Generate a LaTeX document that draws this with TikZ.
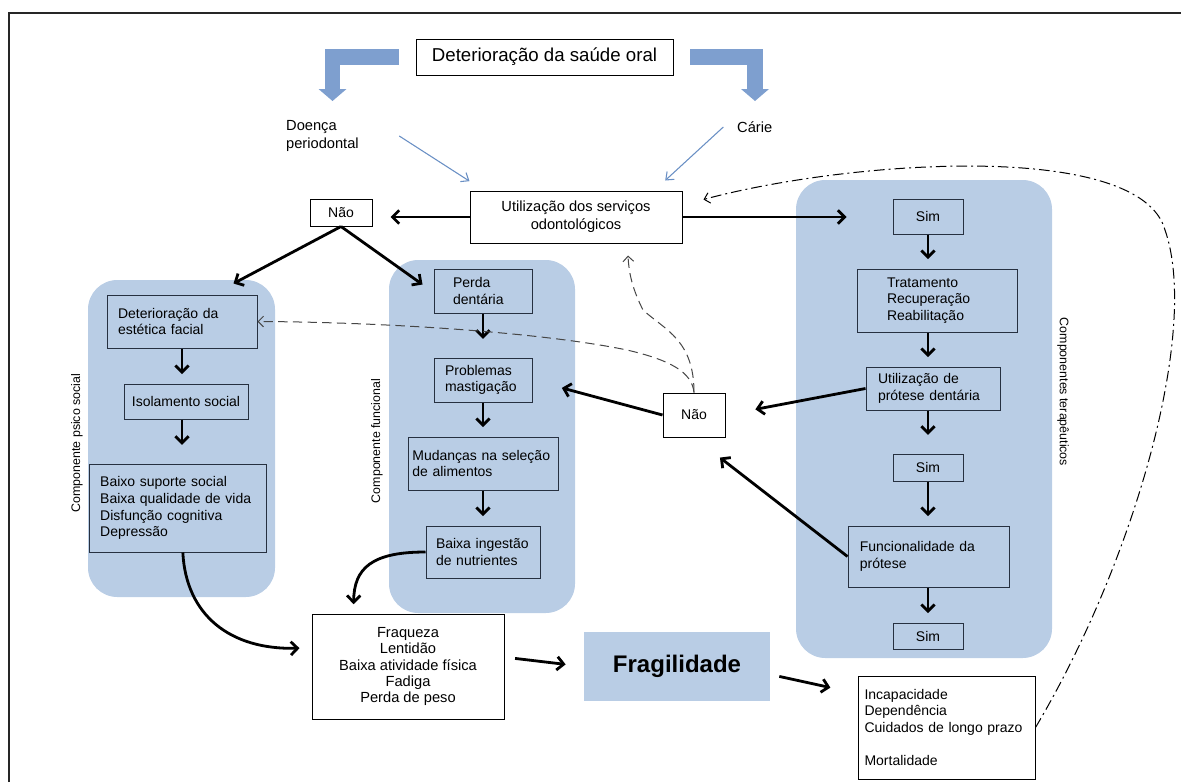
\documentclass[tikz,border=0pt]{standalone}
\usepackage{fontspec}
\setmainfont{Liberation Sans}
\usetikzlibrary{arrows.meta}
\definecolor{panelblue}{RGB}{185,205,229}
\definecolor{barblue}{RGB}{126,159,207}
\definecolor{hintblue}{RGB}{105,143,196}
\definecolor{boxline}{RGB}{38,48,64}
\definecolor{loopgray}{RGB}{70,70,70}

\begin{document}
\begin{tikzpicture}[
  x=0.75pt,y=-0.75pt,line width=0.75pt,
  font=\fontsize{10.5}{12.6}\selectfont,
  every node/.style={inner sep=2pt},
  box size/.style 2 args={minimum width=#1*0.75pt,minimum height=#2*0.75pt},
  panel/.style={fill=panelblue,rounded corners=22pt,inner sep=0pt},
  inbox/.style={draw=boxline,fill=panelblue,inner sep=0pt,align=left},
  outbox/.style={draw=black,fill=white,inner sep=0pt,align=center},
  big arrow/.style={draw=barblue,line width=11.5pt,
    -{Triangle[length=9pt,width=21pt,line width=0pt]}},
  hint/.style={draw=hintblue,line width=0.8pt,-{Straight Barb[length=5pt,width=8pt]}},
  flow/.style={line width=2.1pt,-{Straight Barb[length=5pt,width=10pt]},shorten >=7pt},
  loopback/.style={draw=loopgray,dash pattern=on 7pt off 4pt,
    -{Straight Barb[length=4pt,width=8pt]}},
  feedback/.style={dash pattern=on 8pt off 3pt on 1.5pt off 3pt,
    -{Straight Barb[length=4pt,width=8pt]}},
  side label/.style={font=\fontsize{9.3}{11}\selectfont}
]
  \useasboundingbox (0,0) rectangle (1181,782);
  % outer frame, only the top and left sides show
  \draw[line width=1.1pt,black!85] (9,782) -- (9,13) -- (1181,13);

  % background panels
  \node[panel,box size={187}{317}] (psico) at (181.5,438.5) {};
  \node[panel,box size={186}{353}] (funcional) at (482,436.5) {};
  \node[panel,box size={256}{478}] (terap) at (924,419) {};

  % top of the chart
  \node[outbox,box size={257}{36},font=\fontsize{14}{16}\selectfont] (oral) at (544.5,57)
    {Deterioração da saúde oral};
  \coordinate (perioTip) at (332.5,101);
  \coordinate (carieTip) at (755,101);
  \node[anchor=west,align=left,font=\fontsize{11}{13.5}\selectfont] (perio) at (283,136)
    {Doença\\periodontal};
  \node[anchor=west,font=\fontsize{11}{13.5}\selectfont] (carie) at (734,127) {Cárie};
  \node[outbox,box size={212}{52},font=\fontsize{11}{13.5}\selectfont] (util) at (576,217)
    {Utilização dos serviços\\odontológicos};
  \node[outbox,box size={62}{27}] (naoTop) at (341,212.5) {Não};

  % psycho-social column
  \node[inbox,box size={150}{53},text width=96pt] (facial) at (182,321.5)
    {Deterioração da\\estética facial};
  \node[inbox,box size={124}{35},align=center] (isol) at (186,401.5) {Isolamento social};
  \node[inbox,box size={177}{88},text width=116pt] (social) at (177.5,508)
    {Baixo suporte social\\Baixa qualidade de vida\\Disfunção cognitiva\\Depressão};

  % functional column
  \node[inbox,box size={98}{44},text width=45pt] (perda) at (483,291) {Perda\\dentária};
  \node[inbox,box size={98}{44},text width=57pt] (mast) at (483,380) {Problemas\\mastigação};
  \node[inbox,box size={150}{53},text width=106pt] (mud) at (483,463.5)
    {Mudanças na seleção\\de alimentos};
  \node[inbox,box size={114}{52},text width=70.5pt] (ingest) at (483,552)
    {Baixa ingestão\\de nutrientes};
  \node[outbox,box size={62}{44}] (naoMid) at (694,415) {Não};

  % therapeutic column
  \node[inbox,box size={70}{35},align=center] (sim1) at (928,216.5) {Sim};
  \node[inbox,box size={160}{63},text width=75pt] (trat) at (937,300.5)
    {Tratamento\\Recuperação\\Reabilitação};
  \node[inbox,box size={134}{43},text width=82.5pt] (protese) at (933,388.5)
    {Utilização de\\prótese dentária};
  \node[inbox,box size={70}{27},align=center] (sim2) at (928,467.5) {Sim};
  \node[inbox,box size={161}{61},text width=103pt] (func) at (928.5,556.5)
    {Funcionalidade da\\prótese};
  \node[inbox,box size={70}{26},align=center] (sim3) at (928,636) {Sim};

  % outcomes
  \node[outbox,box size={192}{105},font=\fontsize{11}{12.2}\selectfont] (fraq) at (408,666.5)
    {Fraqueza\\Lentidão\\Baixa atividade física\\Fadiga\\Perda de peso};
  \node[fill=panelblue,inner sep=0pt,box size={186}{69},
    font=\fontsize{18}{20}\selectfont\bfseries] (frag) at (677,666.5) {Fragilidade};
  \node[outbox,box size={177}{103},align=left,text width=123pt,
    font=\fontsize{10.5}{12.4}\selectfont] (incap) at (946.5,727.5)
    {Incapacidade\\Dependência\\Cuidados de longo prazo\\[12.4pt]Mortalidade};

  % column titles
  \node[side label,rotate=90] (psicoLbl) at (77,443) {Componente psico social};
  \node[side label,rotate=90] (funcLbl) at (377,441) {Componente funcional};
  \node[side label,rotate=-90] (terapLbl) at (1063,392) {Componentes terapêuticos};

  % causes
  \draw[big arrow] ([xshift=-12.5pt]oral.west) -| (perioTip);
  \draw[big arrow] ([xshift=12.5pt]oral.east) -| (carieTip);
  \draw[hint] ([xshift=28pt]perio.east) -- ([yshift=7pt]util.north west);
  \draw[hint] ([xshift=-8pt]carie.west) -- ([xshift=-13pt,yshift=7.5pt]util.north east);

  % use of dental services
  \draw[flow,shorten >=13.5pt] (util.west) -- (util.west -| naoTop.east);
  \draw[flow,shorten >=34.5pt] (util.east) -- (util.east -| sim1.west);
  \draw[flow,shorten >=0pt] (naoTop.south) -- ([xshift=-18pt,yshift=8.25pt]facial.north east);
  \draw[flow,shorten >=0pt] (naoTop.south) -- ([xshift=-8.25pt,yshift=-12pt]perda.north west);

  % down the columns
  \draw[flow] (facial.south) -- (facial.south |- isol.north);
  \draw[flow,shorten >=14pt] (isol.south -| facial.south) -- (facial.south |- social.north);
  \draw[flow,shorten >=14pt] (perda.south) -- (perda.south |- mast.north);
  \draw[flow] (mast.south) -- (mast.south |- mud.north);
  \draw[flow] (mud.south) -- (mud.south |- ingest.north);
  \draw[flow] (sim1.south) -- (sim1.south |- trat.north);
  \draw[flow] (trat.south -| sim1.south) -- (sim1.south |- protese.north);
  \draw[flow,shorten >=14pt] (protese.south -| sim1.south) -- (sim1.south |- sim2.north);
  \draw[flow] (sim2.south) -- (sim2.south |- func.north);
  \draw[flow] (func.south -| sim1.south) -- (sim1.south |- sim3.north);

  % back to the second Não
  \draw[flow,shorten >=22.8pt] (naoMid.west) -- (mast.east);
  \draw[flow,shorten >=22.8pt] (protese.west) -- (naoMid.east);
  \draw[flow,shorten >=24.6pt] (func.west) -- (naoMid.south);
  \draw[loopback] (naoMid.north) .. controls (692,372) and (670,360) .. (627,350)
    .. controls (540,332) and (380,322) .. (facial.east);
  \draw[loopback] (naoMid.north) .. controls (694,340) and (665,330) .. (643,310)
    .. controls (633,290) and (629,275) .. ([xshift=39pt,yshift=-9pt]util.south);

  % towards frailty
  \draw[flow,shorten >=9pt] ([xshift=4pt]social.south) .. controls (186,615) and (230,650)
    .. ([yshift=14pt]fraq.west);
  \draw[flow] (ingest.west) .. controls (372,552) and (354,568)
    .. ([xshift=31.5pt]fraq.north west);
  \draw[flow,shorten <=8pt,shorten >=13.5pt] ([yshift=7pt]fraq.east) -- (frag.west);
  \draw[flow,shorten <=6.75pt,shorten >=20.8pt] ([yshift=-6pt]frag.east)
    -- ([yshift=-13.5pt]incap.north west);
  \draw[feedback] (incap.east) .. controls (1135,560) and (1200,330) .. (1165,230)
    .. controls (1140,140) and (850,160) .. ([xshift=15.75pt,yshift=-6.75pt]util.north east);
\end{tikzpicture}
\end{document}
